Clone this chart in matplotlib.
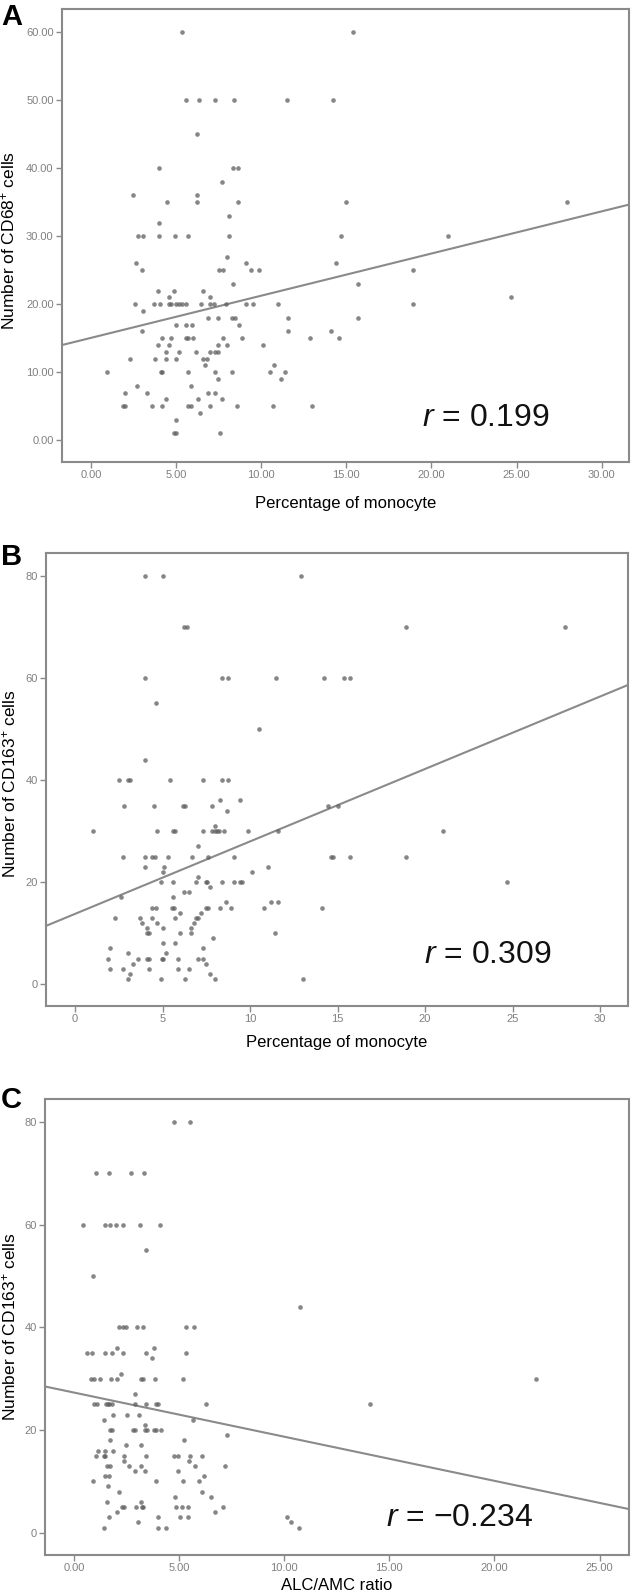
import matplotlib
matplotlib.use("Agg")
import matplotlib.pyplot as plt
import numpy as np

plt.rcParams["font.family"] = ["Liberation Sans", "DejaVu Sans"]
plt.rcParams["mathtext.fontset"] = "custom"
plt.rcParams["mathtext.rm"] = "Liberation Sans"
plt.rcParams["mathtext.it"] = "Liberation Sans:italic"

# ---- panel A: % monocyte vs CD68+ cells ----
A_X = [5.37, 15.39,
       5.57, 6.37, 7.29, 8.39, 11.49, 14.2,
       6.2,
       3.98, 8.35, 8.65,
       7.67,
       2.47, 6.2,
       4.49, 6.2, 8.65, 15.0, 27.98,
       8.08,
       3.98,
       2.75, 3.08, 3.98, 4.96, 5.69, 8.08, 14.7, 20.98,
       8.0,
       2.67, 9.08, 14.39,
       2.98, 7.55, 7.75, 9.39, 9.88, 18.9,
       8.37, 15.69,
       3.96, 4.86, 6.59,
       4.59, 6.98, 24.69,
       2.57, 3.69, 4.08, 4.6, 4.7, 5.02, 5.18, 5.33, 5.57, 6.49, 7.02, 7.2, 7.92, 9.08, 9.49, 10.96, 18.9,
       3.08,
       6.9, 7.49, 8.27, 8.47, 11.59, 15.69,
       4.98, 5.57, 5.96, 8.69,
       2.98, 11.59, 14.08,
       4.2, 4.69, 5.57, 5.69, 5.98, 7.76, 8.88, 12.88, 14.59,
       3.96, 4.59, 7.49, 7.98, 10.1,
       4.39, 5.18, 6.18, 6.98, 7.29, 7.49,
       2.27, 3.76, 4.39, 4.98, 6.59, 6.8,
       6.69, 10.78,
       0.96, 4.1, 4.2, 5.69, 7.27, 8.27, 10.49, 11.37,
       7.49, 11.18,
       2.69, 5.88,
       1.98, 3.27, 6.88, 7.29,
       4.39, 6.29, 7.69,
       1.88, 2.0, 3.59, 4.2, 5.69, 5.88, 6.98, 8.59, 10.69, 12.98,
       6.39,
       4.98,
       4.88, 4.98, 7.59]
A_Y = [60, 60,
       50, 50, 50, 50, 50, 50,
       45,
       40, 40, 40,
       38,
       36, 36,
       35, 35, 35, 35, 35,
       33,
       32,
       30, 30, 30, 30, 30, 30, 30, 30,
       27,
       26, 26, 26,
       25, 25, 25, 25, 25, 25,
       23, 23,
       22, 22, 22,
       21, 21, 21,
       20, 20, 20, 20, 20, 20, 20, 20, 20, 20, 20, 20, 20, 20, 20, 20, 20,
       19,
       18, 18, 18, 18, 18, 18,
       17, 17, 17, 17,
       16, 16, 16,
       15, 15, 15, 15, 15, 15, 15, 15, 15,
       14, 14, 14, 14, 14,
       13, 13, 13, 13, 13, 13,
       12, 12, 12, 12, 12, 12,
       11, 11,
       10, 10, 10, 10, 10, 10, 10, 10,
       9, 9,
       8, 8,
       7, 7, 7, 7,
       6, 6, 6,
       5, 5, 5, 5, 5, 5, 5, 5, 5, 5,
       4,
       3,
       1, 1, 1]

# ---- panel B: % monocyte vs CD163+ cells ----
B_X = [4.0, 5.02, 12.93,
       6.24, 6.42, 18.9, 27.99,
       4.0, 8.39, 8.73, 11.5, 14.2, 15.35, 15.69,
       4.6,
       10.5,
       4.0,
       2.5, 3.03, 3.13, 5.42, 7.3, 8.39, 8.73,
       8.3, 9.4,
       2.82, 4.52, 6.17, 6.27, 7.82, 14.43, 15.03,
       8.7,
       8.01,
       1.03, 4.71, 5.6, 5.7, 7.3, 7.82, 8.0, 8.1, 8.2, 8.52, 9.9, 11.6, 21.0,
       7.02,
       2.73, 4.0, 4.41, 4.56, 5.3, 6.71, 7.61, 9.11, 14.6, 14.72, 15.71, 18.9,
       4.0, 5.09, 11.0,
       5.0, 10.13,
       7.02,
       4.9, 5.6, 6.9, 7.46, 7.56, 8.39, 9.11, 9.43, 9.53, 24.71,
       7.7,
       6.22, 6.52,
       2.61, 5.6,
       8.6, 11.19, 11.61,
       4.41, 4.62, 5.55, 5.65, 7.5, 7.6, 8.3, 8.9, 10.8, 14.1,
       6.0, 7.2,
       2.31, 3.72, 4.41, 5.7, 6.9, 7.02,
       3.82, 4.71, 6.79,
       4.1, 5.0, 6.6,
       4.1, 4.22, 6.0, 6.6, 11.42,
       7.91,
       5.0, 5.7,
       2.0, 7.3,
       3.01, 5.2,
       1.89, 3.6, 4.1, 4.22, 4.95, 5.05, 5.9, 7.0, 7.3,
       3.32, 7.5,
       2.0, 2.73, 4.22, 5.9, 6.5,
       3.13, 7.7,
       3.01, 4.9, 6.31, 8.01, 13.0]
B_Y = [80, 80, 80,
       70, 70, 70, 70,
       60, 60, 60, 60, 60, 60, 60,
       55,
       50,
       44,
       40, 40, 40, 40, 40, 40, 40,
       36, 36,
       35, 35, 35, 35, 35, 35, 35,
       34,
       31,
       30, 30, 30, 30, 30, 30, 30, 30, 30, 30, 30, 30, 30,
       27,
       25, 25, 25, 25, 25, 25, 25, 25, 25, 25, 25, 25,
       23, 23, 23,
       22, 22,
       21,
       20, 20, 20, 20, 20, 20, 20, 20, 20, 20,
       19,
       18, 18,
       17, 17,
       16, 16, 16,
       15, 15, 15, 15, 15, 15, 15, 15, 15, 15,
       14, 14,
       13, 13, 13, 13, 13, 13,
       12, 12, 12,
       11, 11, 11,
       10, 10, 10, 10, 10,
       9,
       8, 8,
       7, 7,
       6, 6,
       5, 5, 5, 5, 5, 5, 5, 5, 5,
       4, 4,
       3, 3, 3, 3, 3,
       2, 2,
       1, 1, 1, 1, 1]

# ---- panel C: ALC/AMC ratio vs CD163+ cells ----
C_X = [4.75, 5.51,
       1.05, 1.65, 2.71, 3.34,
       0.44, 1.49, 1.71, 2.0, 2.34, 3.14, 4.07,
       3.41,
       0.9,
       10.77,
       2.15, 2.31, 2.47, 3.01, 3.26, 5.34, 5.72,
       2.03, 3.82,
       0.6, 0.84, 1.49, 1.8, 2.31, 3.42, 5.35,
       3.71,
       2.24,
       0.81, 0.97, 1.24, 1.77, 2.03, 3.2, 3.3, 3.85, 5.18, 21.99,
       2.88,
       0.95, 1.08, 1.52, 1.6, 1.68, 1.8, 2.88, 3.41, 3.92, 4.0, 6.27, 14.07,
       1.87, 2.5, 3.1,
       1.41, 5.64,
       3.36,
       1.71, 1.8, 2.79, 2.88, 3.36, 3.46, 3.82, 3.9, 4.12,
       7.29,
       1.71, 5.21,
       2.46, 3.2,
       1.14, 1.49, 1.84,
       1.05, 1.42, 1.46, 2.38, 3.42, 4.74, 4.96, 5.54, 6.1,
       2.38, 5.45,
       1.55, 1.71, 2.6, 3.17, 5.77, 7.19,
       2.88, 3.36, 4.97,
       1.49, 1.65, 6.18,
       0.89, 3.9, 5.17, 5.94,
       1.6,
       2.15, 6.07,
       4.8, 6.51,
       1.55, 3.2,
       2.3, 2.38, 2.95, 3.22, 3.3, 4.86, 5.12, 5.4, 7.07,
       2.06, 6.72,
       1.68, 3.99, 5.04, 5.4, 10.11,
       3.03, 10.3,
       1.41, 4.01, 4.39, 10.69]
C_Y = [80, 80,
       70, 70, 70, 70,
       60, 60, 60, 60, 60, 60, 60,
       55,
       50,
       44,
       40, 40, 40, 40, 40, 40, 40,
       36, 36,
       35, 35, 35, 35, 35, 35, 35,
       34,
       31,
       30, 30, 30, 30, 30, 30, 30, 30, 30, 30,
       27,
       25, 25, 25, 25, 25, 25, 25, 25, 25, 25, 25, 25,
       23, 23, 23,
       22, 22,
       21,
       20, 20, 20, 20, 20, 20, 20, 20, 20,
       19,
       18, 18,
       17, 17,
       16, 16, 16,
       15, 15, 15, 15, 15, 15, 15, 15, 15,
       14, 14,
       13, 13, 13, 13, 13, 13,
       12, 12, 12,
       11, 11, 11,
       10, 10, 10, 10,
       9,
       8, 8,
       7, 7,
       6, 6,
       5, 5, 5, 5, 5, 5, 5, 5, 5,
       4, 4,
       3, 3, 3, 3, 3,
       2, 2,
       1, 1, 1, 1]

# fit lines: (intercept, slope)
A_FIT = (15.05, 0.62)
B_FIT = (13.76, 1.42)
C_FIT = (27.3, -0.86)

A_XTICKS = [0, 5, 10, 15, 20, 25, 30]
A_XLABELS = ["0.00", "5.00", "10.00", "15.00", "20.00", "25.00", "30.00"]
A_YTICKS = [0, 10, 20, 30, 40, 50, 60]
A_YLABELS = ["0.00", "10.00", "20.00", "30.00", "40.00", "50.00", "60.00"]
B_XTICKS = [0, 5, 10, 15, 20, 25, 30]
B_XLABELS = ["0", "5", "10", "15", "20", "25", "30"]
B_YTICKS = [0, 20, 40, 60, 80]
B_YLABELS = ["0", "20", "40", "60", "80"]
C_XTICKS = [0, 5, 10, 15, 20, 25]
C_XLABELS = ["0.00", "5.00", "10.00", "15.00", "20.00", "25.00"]
C_YTICKS = [0, 20, 40, 60, 80]
C_YLABELS = ["0", "20", "40", "60", "80"]

W, H = 632, 1595
GRAY = "#8a8a8a"
DOT = "#5e5e5e"

PANELS = [
    dict(letter="A", box=(62, 9, 629, 462), x=A_X, y=A_Y, fit=A_FIT,
         xlim=(-1.7, 31.6), ylim=(-3.2, 63.4),
         xt=A_XTICKS, xtl=A_XLABELS, yt=A_YTICKS, ytl=A_YLABELS,
         xlabel="Percentage of monocyte", ylabel="Number of CD68$^{+}$ cells",
         rtext="$r$ = 0.199", rpos=(0.635, 0.097), ylab_x=-0.078, xlab_y=-0.076,
         ylab_y=0.49, letter_y=3),
    dict(letter="B", box=(46, 553, 628, 1006), x=B_X, y=B_Y, fit=B_FIT,
         xlim=(-1.66, 31.6), ylim=(-4.3, 84.5),
         xt=B_XTICKS, xtl=B_XLABELS, yt=B_YTICKS, ytl=B_YLABELS,
         xlabel="Percentage of monocyte", ylabel="Number of CD163$^{+}$ cells",
         rtext="$r$ = 0.309", rpos=(0.65, 0.113), ylab_x=-0.048, xlab_y=-0.064,
         ylab_y=0.49, letter_y=543),
    dict(letter="C", box=(45, 1099, 629, 1555), x=C_X, y=C_Y, fit=C_FIT,
         xlim=(-1.38, 26.4), ylim=(-4.35, 84.5),
         xt=C_XTICKS, xtl=C_XLABELS, yt=C_YTICKS, ytl=C_YLABELS,
         xlabel="ALC/AMC ratio", ylabel="Number of CD163$^{+}$ cells",
         rtext="$r$ = \u22120.234", rpos=(0.584, 0.081), ylab_x=-0.046, xlab_y=-0.05,
         ylab_y=0.5, letter_y=1086),
]

fig = plt.figure(figsize=(W / 100, H / 100), dpi=100)

for p in PANELS:
    x0, y0, x1, y1 = p["box"]
    ax = fig.add_axes([x0 / W, 1 - y1 / H, (x1 - x0) / W, (y1 - y0) / H])
    ax.scatter(p["x"], p["y"], s=11, color=DOT, alpha=0.75, linewidths=0, zorder=3)

    b0, b1 = p["fit"]
    lx = np.array(p["xlim"])
    ax.plot(lx, b0 + b1 * lx, color=GRAY, lw=1.5, zorder=2)

    ax.set_xlim(*p["xlim"])
    ax.set_ylim(*p["ylim"])
    ax.set_xticks(p["xt"])
    ax.set_xticklabels(p["xtl"])
    ax.set_yticks(p["yt"])
    ax.set_yticklabels(p["ytl"])
    ax.tick_params(colors=GRAY, labelcolor="#808080", labelsize=8, length=4, width=1, pad=2)
    for sp in ax.spines.values():
        sp.set_color(GRAY)
        sp.set_linewidth(1.5)

    ax.set_xlabel(p["xlabel"], fontsize=12)
    ax.set_ylabel(p["ylabel"], fontsize=12.5)
    ax.xaxis.set_label_coords(0.5, p["xlab_y"])
    ax.yaxis.set_label_coords(p["ylab_x"], p["ylab_y"])

    ax.text(p["rpos"][0], p["rpos"][1], p["rtext"], transform=ax.transAxes,
            fontsize=23, va="center", ha="left", color="#111111")

    fig.text(1 / W, 1 - p["letter_y"] / H, p["letter"], fontsize=21,
             fontweight="bold", va="top", ha="left")

fig.savefig("out.png", dpi=100)
